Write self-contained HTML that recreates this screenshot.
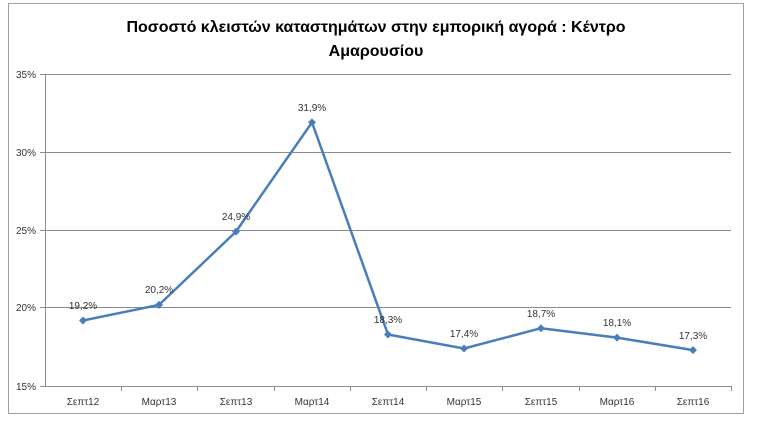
<!DOCTYPE html>
<html><head><meta charset="utf-8"><style>
body{margin:0;background:#fff;}
svg{display:block;font-family:"Liberation Sans","DejaVu Sans",sans-serif;}
</style></head><body>
<svg width="768" height="430" viewBox="0 0 768 430">
<rect x="8.5" y="3.5" width="735" height="410" fill="#fff" stroke="#a0a0a0"/>
<text x="376" y="32" text-anchor="middle" font-size="16" font-weight="bold" fill="#000">Ποσοστό κλειστών καταστημάτων στην εμπορική αγορά : Κέντρο</text>
<text x="376" y="56" text-anchor="middle" font-size="16" font-weight="bold" fill="#000">Αμαρουσίου</text>
<g stroke="#8c8c8c" stroke-width="1">
<line x1="45" y1="74.5" x2="731" y2="74.5"/>
<line x1="45" y1="152.5" x2="731" y2="152.5"/>
<line x1="45" y1="230.5" x2="731" y2="230.5"/>
<line x1="45" y1="307.5" x2="731" y2="307.5"/>
<line x1="45" y1="386.5" x2="731" y2="386.5"/>
<line x1="45.5" y1="74" x2="45.5" y2="386"/>
<line x1="40" y1="74.5" x2="45" y2="74.5"/><line x1="40" y1="152.5" x2="45" y2="152.5"/><line x1="40" y1="230.5" x2="45" y2="230.5"/><line x1="40" y1="307.5" x2="45" y2="307.5"/><line x1="40" y1="386.5" x2="45" y2="386.5"/>
<line x1="121.5" y1="386" x2="121.5" y2="391"/><line x1="197.5" y1="386" x2="197.5" y2="391"/><line x1="274.5" y1="386" x2="274.5" y2="391"/><line x1="350.5" y1="386" x2="350.5" y2="391"/><line x1="426.5" y1="386" x2="426.5" y2="391"/><line x1="502.5" y1="386" x2="502.5" y2="391"/><line x1="579.5" y1="386" x2="579.5" y2="391"/><line x1="655.5" y1="386" x2="655.5" y2="391"/><line x1="731.5" y1="386" x2="731.5" y2="391"/>
</g>
<g font-size="10" fill="#333" text-anchor="end">
<text x="36" y="78">35%</text><text x="36" y="156">30%</text><text x="36" y="234">25%</text><text x="36" y="311">20%</text><text x="36" y="390">15%</text>
</g>
<g font-size="10" fill="#333" text-anchor="middle">
<text x="83" y="405">Σεπτ12</text><text x="159" y="405">Μαρτ13</text><text x="236" y="405">Σεπτ13</text><text x="312" y="405">Μαρτ14</text><text x="388" y="405">Σεπτ14</text><text x="464" y="405">Μαρτ15</text><text x="541" y="405">Σεπτ15</text><text x="617" y="405">Μαρτ16</text><text x="693" y="405">Σεπτ16</text>
</g>
<polyline fill="none" stroke="#4a7ebb" stroke-width="2.5" stroke-linejoin="round" points="83,320.5 159,304.9 236,231.6 312,122.4 388,334.5 464,348.5 541,328.2 617,337.6 693,350.1"/>
<g fill="#4a7ebb">
<path d="M83,316.5l4,4l-4,4l-4,-4z"/><path d="M159,300.9l4,4l-4,4l-4,-4z"/><path d="M236,227.6l4,4l-4,4l-4,-4z"/><path d="M312,118.4l4,4l-4,4l-4,-4z"/><path d="M388,330.5l4,4l-4,4l-4,-4z"/><path d="M464,344.5l4,4l-4,4l-4,-4z"/><path d="M541,324.2l4,4l-4,4l-4,-4z"/><path d="M617,333.6l4,4l-4,4l-4,-4z"/><path d="M693,346.1l4,4l-4,4l-4,-4z"/>
</g>
<g font-size="10" fill="#333" text-anchor="middle">
<text x="83" y="309">19,2%</text><text x="159" y="293">20,2%</text><text x="236" y="220">24,9%</text><text x="312" y="111">31,9%</text><text x="388" y="323">18,3%</text><text x="464" y="337">17,4%</text><text x="541" y="317">18,7%</text><text x="617" y="326">18,1%</text><text x="693" y="339">17,3%</text>
</g>
</svg>
</body></html>
